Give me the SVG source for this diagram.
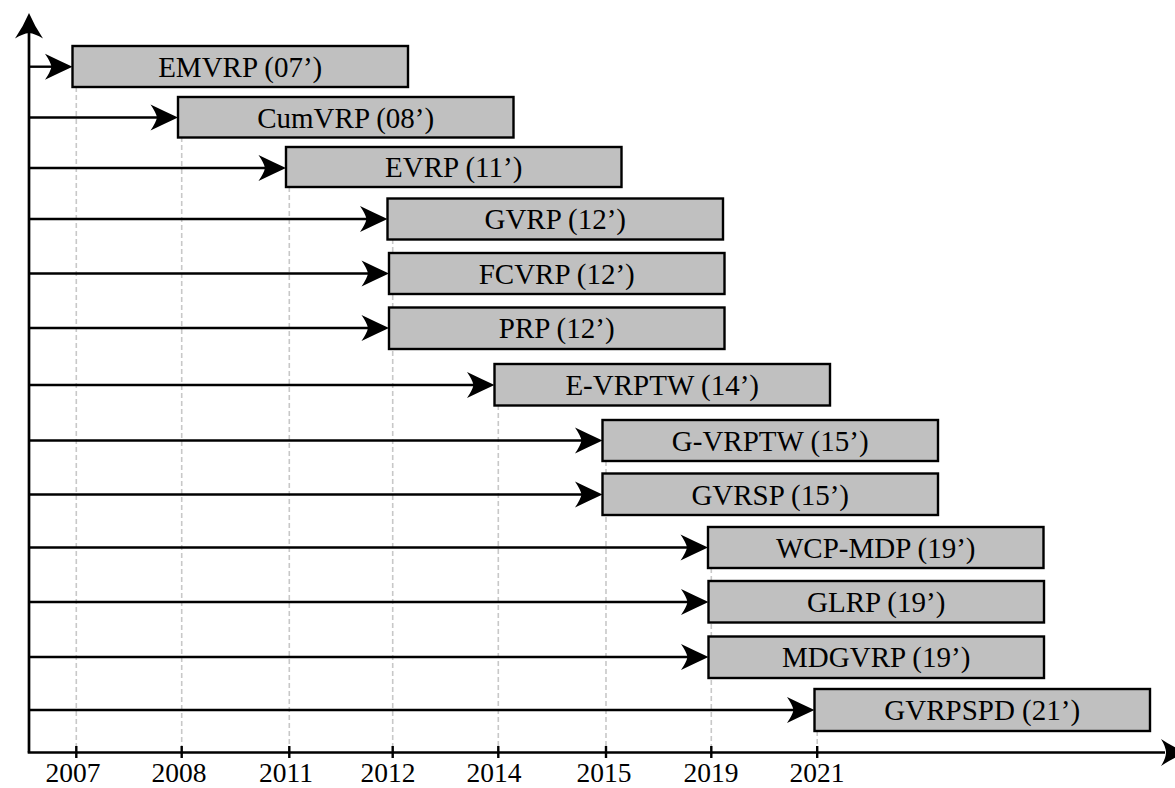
<svg xmlns="http://www.w3.org/2000/svg" width="1175" height="788" viewBox="0 0 1175 788">
  <defs>
    <style>
      .box { fill: #c0c0c0; stroke: #000; stroke-width: 2.4; }
      .lbl { font-family: "Liberation Serif", "Times New Roman", serif; font-size: 29px; fill: #000; text-anchor: middle; }
      .yr { font-family: "Liberation Serif", "Times New Roman", serif; font-size: 27.5px; fill: #000; text-anchor: middle; }
      .axis { stroke: #000; stroke-width: 2.7; fill: none; }
      .tick { stroke: #000; stroke-width: 2.4; }
      .guide { stroke: #c8c8c8; stroke-width: 1.6; stroke-dasharray: 5 3; fill: none; }
      .conn { stroke: #000; stroke-width: 2.4; fill: none; marker-end: url(#stealth); }
    </style>
    <!-- barbed arrowhead; origin sits at the notch, tip is 19px ahead -->
    <marker id="stealth" markerUnits="userSpaceOnUse" markerWidth="40" markerHeight="40" viewBox="-12 -20 40 40" refX="0" refY="0" orient="auto" overflow="visible">
      <path d="M19,0 Q6,-6 -8.5,-13 Q-3,-5 -2,0 Q-3,5 -8.5,13 Q6,6 19,0 Z" fill="#000"/>
    </marker>
  </defs>

  <!-- year guides -->
  <g id="guides">
    <line class="guide" x1="76.3" y1="87" x2="76.3" y2="752"/>
    <line class="guide" x1="181.7" y1="137" x2="181.7" y2="752"/>
    <line class="guide" x1="289.3" y1="187" x2="289.3" y2="752"/>
    <line class="guide" x1="392.7" y1="239" x2="392.7" y2="752"/>
    <line class="guide" x1="498.3" y1="405" x2="498.3" y2="752"/>
    <line class="guide" x1="606" y1="461" x2="606" y2="752"/>
    <line class="guide" x1="711.3" y1="568" x2="711.3" y2="752"/>
    <line class="guide" x1="817.2" y1="731" x2="817.2" y2="752"/>
  </g>

  <!-- axes -->
  <g id="axes">
    <line class="axis" x1="29" y1="752.5" x2="29" y2="33"/>
    <path d="M29,13 Q23,27 15,38.5 Q23,33.5 29,33 Q35,33.5 43,38.5 Q35,27 29,13 Z" fill="#000"/>
    <line class="axis" x1="27.7" y1="752.5" x2="1165" y2="752.5"/>
    <path d="M1186,752.5 Q1172,746.5 1161,739 Q1166,747 1166,752.5 Q1166,758 1161,766 Q1172,758.5 1186,752.5 Z" fill="#000"/>
    <line class="tick" x1="76.3" y1="746" x2="76.3" y2="758"/>
    <line class="tick" x1="181.7" y1="746" x2="181.7" y2="758"/>
    <line class="tick" x1="289.3" y1="746" x2="289.3" y2="758"/>
    <line class="tick" x1="392.7" y1="746" x2="392.7" y2="758"/>
    <line class="tick" x1="498.3" y1="746" x2="498.3" y2="758"/>
    <line class="tick" x1="606" y1="746" x2="606" y2="758"/>
    <line class="tick" x1="711.3" y1="746" x2="711.3" y2="758"/>
    <line class="tick" x1="817.2" y1="746" x2="817.2" y2="758"/>
    <text class="yr" x="73" y="782">2007</text>
    <text class="yr" x="179" y="782">2008</text>
    <text class="yr" x="286" y="782">2011</text>
    <text class="yr" x="388" y="782">2012</text>
    <text class="yr" x="494" y="782">2014</text>
    <text class="yr" x="604" y="782">2015</text>
    <text class="yr" x="711" y="782">2019</text>
    <text class="yr" x="817" y="782">2021</text>
  </g>

  <!-- connectors from the time axis to each problem -->
  <g id="connectors">
    <line class="conn" x1="29" y1="66.7" x2="53.5" y2="66.7"/>
    <line class="conn" x1="29" y1="117.5" x2="159" y2="117.5"/>
    <line class="conn" x1="29" y1="168" x2="267" y2="168"/>
    <line class="conn" x1="29" y1="219" x2="368.5" y2="219"/>
    <line class="conn" x1="29" y1="273.5" x2="370" y2="273.5"/>
    <line class="conn" x1="29" y1="328" x2="370" y2="328"/>
    <line class="conn" x1="29" y1="385" x2="475.5" y2="385"/>
    <line class="conn" x1="29" y1="440.5" x2="583.5" y2="440.5"/>
    <line class="conn" x1="29" y1="494.5" x2="583.5" y2="494.5"/>
    <line class="conn" x1="29" y1="547.5" x2="689" y2="547.5"/>
    <line class="conn" x1="29" y1="602" x2="689.5" y2="602"/>
    <line class="conn" x1="29" y1="657" x2="689.5" y2="657"/>
    <line class="conn" x1="29" y1="710" x2="795.5" y2="710"/>
  </g>

  <g id="emvrp">
    <rect class="box" x="72.5" y="46" width="335.5" height="41"/>
    <text class="lbl" x="240.2" y="76.5">EMVRP (07’)</text>
  </g>
  <g id="cumvrp">
    <rect class="box" x="178" y="97" width="335.5" height="40.5"/>
    <text class="lbl" x="345.7" y="127.5">CumVRP (08’)</text>
  </g>
  <g id="evrp">
    <rect class="box" x="286" y="147" width="335.5" height="40"/>
    <text class="lbl" x="453.7" y="177">EVRP (11’)</text>
  </g>
  <g id="gvrp">
    <rect class="box" x="387.5" y="198.5" width="335.5" height="41"/>
    <text class="lbl" x="555.2" y="229">GVRP (12’)</text>
  </g>
  <g id="fcvrp">
    <rect class="box" x="389" y="253" width="335.5" height="41"/>
    <text class="lbl" x="556.7" y="283.5">FCVRP (12’)</text>
  </g>
  <g id="prp">
    <rect class="box" x="389" y="307.5" width="335.5" height="41.5"/>
    <text class="lbl" x="556.7" y="338">PRP (12’)</text>
  </g>
  <g id="e-vrptw">
    <rect class="box" x="494.5" y="364" width="335.5" height="41.5"/>
    <text class="lbl" x="662.2" y="395">E-VRPTW (14’)</text>
  </g>
  <g id="g-vrptw">
    <rect class="box" x="602.5" y="420" width="335.5" height="41"/>
    <text class="lbl" x="770.2" y="450.5">G-VRPTW (15’)</text>
  </g>
  <g id="gvrsp">
    <rect class="box" x="602.5" y="473.5" width="335.5" height="41.5"/>
    <text class="lbl" x="770.2" y="504.5">GVRSP (15’)</text>
  </g>
  <g id="wcp-mdp">
    <rect class="box" x="708" y="527" width="335.5" height="41"/>
    <text class="lbl" x="875.7" y="557.5">WCP-MDP (19’)</text>
  </g>
  <g id="glrp">
    <rect class="box" x="708.5" y="581" width="335.5" height="41.5"/>
    <text class="lbl" x="876.2" y="612">GLRP (19’)</text>
  </g>
  <g id="mdgvrp">
    <rect class="box" x="708.5" y="636.5" width="335.5" height="41.5"/>
    <text class="lbl" x="876.2" y="667">MDGVRP (19’)</text>
  </g>
  <g id="gvrpspd">
    <rect class="box" x="814.5" y="689" width="335.5" height="42"/>
    <text class="lbl" x="982.2" y="720">GVRPSPD (21’)</text>
  </g>
</svg>
